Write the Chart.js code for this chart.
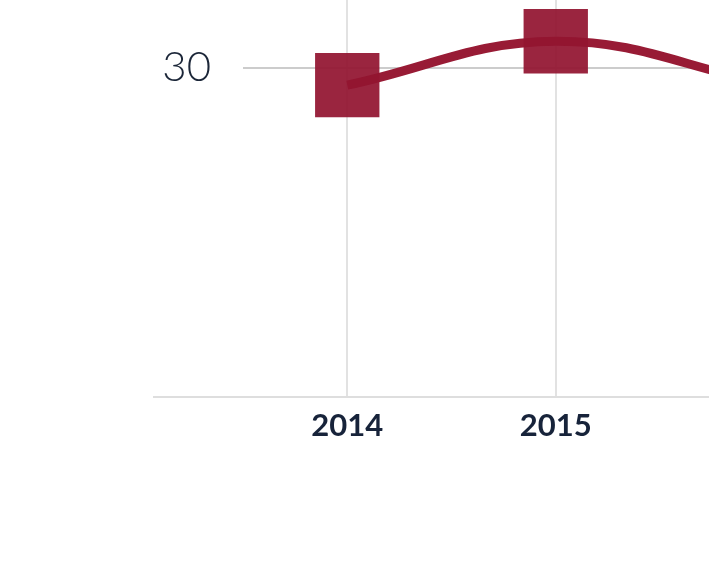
<!DOCTYPE html>
<html>
<head>
<meta charset="utf-8">
<script src="https://cdn.jsdelivr.net/npm/chart.js@4.4.0/dist/chart.umd.js"></script>
<style>
  html, body { margin: 0; padding: 0; width: 709px; height: 583px; overflow: hidden; background: #fff; }
  #chart { position: absolute; left: 0; top: -319px; }
</style>
</head>
<body>
<canvas id="chart" width="914" height="776"></canvas>
<script>
// data
const years = ['2014', '2015', '2016'];
const values = [28.4, 32.4, 28.6];
const yTicks = [0, 30, 60];
const shownTicks = [30];

// x axis line runs further left than the grid
const axisLine = {
  id: 'axisLine',
  beforeDatasetsDraw(chart) {
    const { ctx, chartArea } = chart;
    ctx.save();
    ctx.strokeStyle = '#dedede';
    ctx.lineWidth = 2;
    ctx.beginPath();
    ctx.moveTo(153, chartArea.bottom);
    ctx.lineTo(chart.width, chartArea.bottom);
    ctx.stroke();
    ctx.restore();
  }
};

const ctx = document.getElementById('chart').getContext('2d');
new Chart(ctx, {
  type: 'line',
  data: {
    labels: years,
    datasets: [{
      data: values,
      borderColor: '#981b35',
      borderWidth: 9,
      tension: 0.4,
      pointStyle: 'rect',
      pointRadius: 45.5,
      pointHoverRadius: 45.5,
      pointBorderWidth: 0,
      pointBackgroundColor: 'rgba(146, 20, 48, 0.93)',
      clip: false
    }]
  },
  options: {
    responsive: false,
    animation: false,
    layout: { padding: { top: 10, right: 31, left: 0, bottom: 0 } },
    plugins: { legend: { display: false }, tooltip: { enabled: false } },
    scales: {
      x: {
        offset: true,
        grid: { offset: false, color: '#e2e2e2', lineWidth: 2, drawTicks: false },
        border: { display: false },
        ticks: {
          color: '#17233a',
          padding: 10,
          font: { family: 'Lato', size: 31, weight: 'bold' }
        },
        afterFit(scale) { scale.height = 60; }
      },
      y: {
        min: 0,
        max: 60,
        afterBuildTicks(scale) { scale.ticks = yTicks.map(v => ({ value: v })); },
        grid: {
          drawTicks: false,
          lineWidth: 2,
          color: c => shownTicks.includes(c.tick.value) ? '#cccccc' : 'transparent'
        },
        border: { display: false },
        ticks: {
          color: '#1b2638',
          padding: 32,
          font: { family: 'Lato', size: 42, weight: '300' },
          callback: v => shownTicks.includes(v) ? String(v) : ''
        },
        afterFit(scale) { scale.width = 243; }
      }
    }
  },
  plugins: [axisLine]
});
</script>
</body>
</html>
